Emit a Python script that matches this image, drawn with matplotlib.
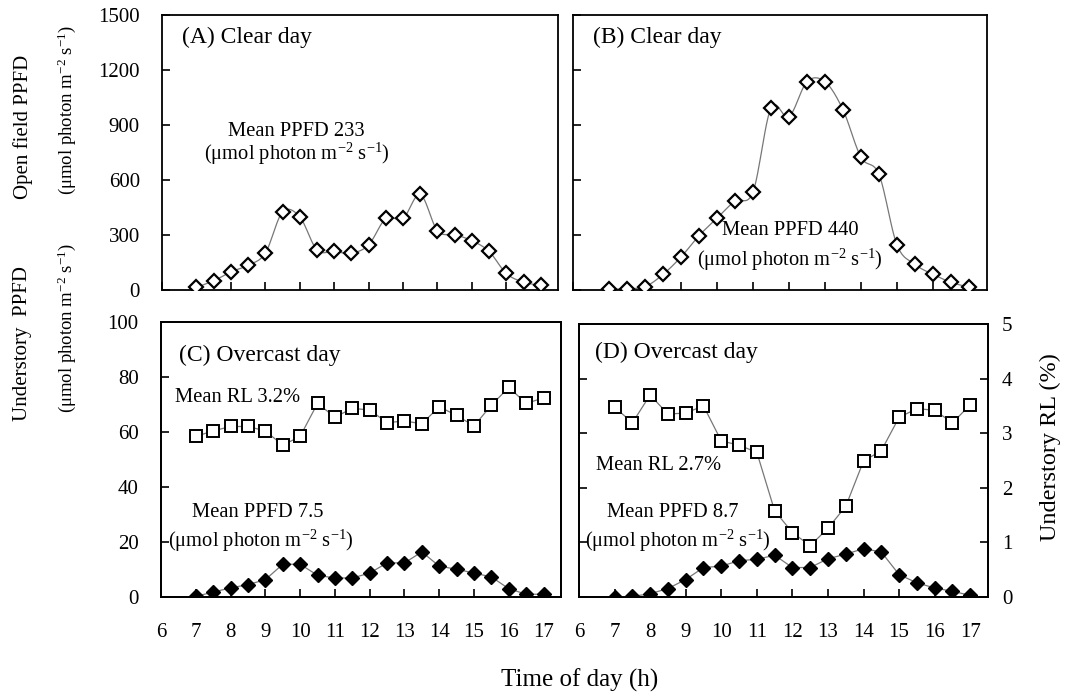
import numpy as np
import matplotlib
matplotlib.use('Agg')
import matplotlib.pyplot as plt

plt.rcParams['font.family'] = ['Liberation Serif', 'DejaVu Serif']
plt.rcParams['mathtext.fontset'] = 'custom'
plt.rcParams['mathtext.rm'] = 'Liberation Serif'
plt.rcParams['mathtext.it'] = 'Liberation Serif:italic'

hours = [7, 7.5, 8, 8.5, 9, 9.5, 10, 10.5, 11, 11.5, 12, 12.5, 13, 13.5,
         14, 14.5, 15, 15.5, 16, 16.5, 17]

# open field PPFD, clear days
open_a = [14, 50, 99, 135, 201, 425, 399, 219, 210, 201, 246, 390, 390, 521,
          323, 302, 269, 210, 90, 43, 25]
open_b = [3, 7, 18, 85, 180, 296, 392, 485, 535, 993, 945, 1136, 1136, 983,
          724, 630, 246, 140, 85, 42, 15]

# understory PPFD, overcast days
under_c = [0.2, 1.8, 3.3, 4.5, 6.3, 11.9, 11.9, 7.9, 6.9, 6.9, 8.7, 12.4, 12.4,
           16.4, 11.2, 10.1, 8.7, 7.3, 3.0, 1.0, 1.0]
under_d = [0.0, 0.2, 1.2, 3.1, 6.4, 10.8, 11.3, 13.3, 13.8, 15.3, 10.8, 10.8,
           14.0, 15.7, 17.7, 16.5, 8.2, 5.2, 3.3, 2.1, 0.6]

# understory relative light (%)
rl_c = [2.92, 3.02, 3.10, 3.10, 3.02, 2.76, 2.92, 3.52, 3.27, 3.43, 3.40, 3.17,
        3.20, 3.15, 3.46, 3.30, 3.11, 3.49, 3.81, 3.52, 3.62]
rl_d = [3.48, 3.19, 3.70, 3.35, 3.37, 3.50, 2.86, 2.78, 2.65, 1.58, 1.18, 0.94,
        1.26, 1.66, 2.49, 2.68, 3.29, 3.45, 3.42, 3.19, 3.52]

x_ticks = list(range(6, 18))
open_ticks = [0, 300, 600, 900, 1200, 1500]
under_ticks = [0, 20, 40, 60, 80, 100]
rl_ticks = [0, 1, 2, 3, 4, 5]


def smooth(x, y, n=12):
    # catmull-rom through the points, like a spreadsheet "smoothed line"
    x = np.asarray(x, float)
    y = np.asarray(y, float)
    px = np.concatenate([[2 * x[0] - x[1]], x, [2 * x[-1] - x[-2]]])
    py = np.concatenate([[2 * y[0] - y[1]], y, [2 * y[-1] - y[-2]]])
    xs, ys = [], []
    t = np.linspace(0, 1, n, endpoint=False)
    for i in range(1, len(px) - 2):
        for p, out in ((px, xs), (py, ys)):
            p0, p1, p2, p3 = p[i - 1], p[i], p[i + 1], p[i + 2]
            out.extend(0.5 * (2 * p1 + (-p0 + p2) * t
                              + (2 * p0 - 5 * p1 + 4 * p2 - p3) * t ** 2
                              + (-p0 + 3 * p1 - 3 * p2 + p3) * t ** 3))
    xs.append(x[-1])
    ys.append(y[-1])
    return xs, ys


fig = plt.figure(figsize=(10.67, 6.97), dpi=100)
W, H = 1067, 697


def box(l, t, r, b):
    return [l / W, 1 - b / H, (r - l) / W, (b - t) / H]


axA = fig.add_axes(box(162, 15, 558, 290))
axB = fig.add_axes(box(573, 15, 987, 290))
axC = fig.add_axes(box(161, 322, 561, 597))
axD = fig.add_axes(box(579, 324, 988, 597))

for ax in (axA, axB, axC, axD):
    ax.set_xlim(6, 17.5)
    ax.set_xticks(x_ticks)
    ax.tick_params(direction='in', length=6, width=1.2, labelsize=15)
    ax.tick_params(axis='x', pad=19)
    ax.tick_params(axis='y', pad=16)
    for s in ax.spines.values():
        s.set_linewidth(1.3)

for ax in (axA, axB):
    ax.set_ylim(0, 1500)
    ax.set_yticks(open_ticks)
    ax.tick_params(labelbottom=False)
for ax in (axC, axD):
    ax.set_ylim(0, 100)
    ax.set_yticks(under_ticks)
axB.tick_params(labelleft=False)
axD.tick_params(labelleft=False)

open_style = dict(marker='D', ms=7.5, mfc='white', mec='black', mew=1.6,
                  ls='none', zorder=3)
for ax, vals in ((axA, open_a), (axB, open_b)):
    sx, sy = smooth(hours, vals)
    ax.plot(sx, sy, color='#777777', lw=0.9, zorder=2)
    ax.plot(hours, vals, **open_style)

for ax, ppfd, rl in ((axC, under_c, rl_c), (axD, under_d, rl_d)):
    ax.plot(hours, ppfd, color='#777777', lw=0.9, marker='D', ms=7.5,
            mfc='black', mec='black', zorder=3)
    tw = ax.twinx()
    tw.set_ylim(0, 5)
    tw.set_yticks(rl_ticks)
    tw.plot(hours, rl, color='#777777', lw=0.9, marker='s', ms=8,
            mfc='white', mec='black', mew=1.4, zorder=3)
    tw.tick_params(direction='in', length=6, width=1.2, labelsize=15, pad=10)
    for s in tw.spines.values():
        s.set_linewidth(1.3)
    if ax is axC:
        tw.tick_params(right=False, labelright=False)

unit = r'($\mathrm{\mu}$mol photon m$^{-2}$ s$^{-1}$)'
fs = 14.8

axA.text(0.05, 0.92, '(A) Clear day', transform=axA.transAxes, fontsize=17,
         va='center')
axA.text(0.34, 0.575, 'Mean PPFD 233', transform=axA.transAxes, fontsize=fs,
         ha='center', va='center')
axA.text(0.34, 0.495, unit, transform=axA.transAxes, fontsize=fs,
         ha='center', va='center')

axB.text(0.048, 0.92, '(B) Clear day', transform=axB.transAxes, fontsize=17,
         va='center')
axB.text(0.524, 0.218, 'Mean PPFD 440', transform=axB.transAxes, fontsize=fs,
         ha='center', va='center')
axB.text(0.524, 0.11, unit, transform=axB.transAxes, fontsize=fs,
         ha='center', va='center')

axC.text(0.045, 0.88, '(C) Overcast day', transform=axC.transAxes,
         fontsize=17, va='center')
axC.text(0.035, 0.727, 'Mean RL 3.2%', transform=axC.transAxes, fontsize=fs,
         va='center')
axC.text(0.243, 0.309, 'Mean PPFD 7.5', transform=axC.transAxes, fontsize=fs,
         ha='center', va='center')
axC.text(0.25, 0.205, unit, transform=axC.transAxes, fontsize=fs,
         ha='center', va='center')

axD.text(0.039, 0.895, '(D) Overcast day', transform=axD.transAxes,
         fontsize=17, va='center')
axD.text(0.042, 0.48, 'Mean RL 2.7%', transform=axD.transAxes, fontsize=fs,
         va='center')
axD.text(0.23, 0.309, 'Mean PPFD 8.7', transform=axD.transAxes, fontsize=fs,
         ha='center', va='center')
axD.text(0.242, 0.205, unit, transform=axD.transAxes, fontsize=fs,
         ha='center', va='center')

# axis titles
fig.text(23 / W, 1 - 127 / H, 'Open field PPFD', rotation=90, fontsize=15,
         ha='center', va='center')
fig.text(67 / W, 1 - 110 / H, unit, rotation=90, fontsize=13.5,
         ha='center', va='center')
fig.text(23 / W, 1 - 343 / H, 'Understory  PPFD', rotation=90, fontsize=15,
         ha='center', va='center')
fig.text(67 / W, 1 - 328 / H, unit, rotation=90, fontsize=13.5,
         ha='center', va='center')
fig.text(1050 / W, 1 - 447 / H, 'Understory RL (%)', rotation=90, fontsize=17.5,
         ha='center', va='center')
fig.text(580 / W, 1 - 680 / H, 'Time of day (h)', fontsize=18,
         ha='center', va='center')

fig.savefig('out.png', dpi=100)
